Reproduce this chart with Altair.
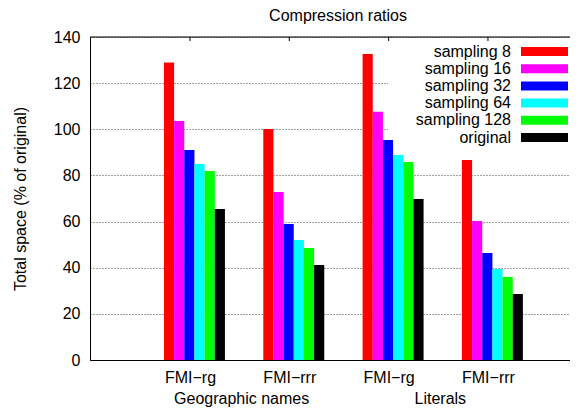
import altair as alt
import pandas as pd

# ---- data ----
tick_labels = ["FMI−rg", "FMI−rrr", "FMI−rg", "FMI−rrr"]
tick_pos = [1, 2, 3, 4]
dataset_labels = ["Geographic names", "Literals"]
dataset_pos = [1.52, 3.52]
series = ["sampling 8", "sampling 16", "sampling 32", "sampling 64", "sampling 128", "original"]
colors = ["#ff0000", "#ff00ff", "#0000ff", "#00ffff", "#00ff00", "#000000"]
s8 = [128.9, 100.1, 132.6, 86.7]
s16 = [103.6, 72.8, 107.6, 60.3]
s32 = [91.0, 59.0, 95.4, 46.4]
s64 = [85.0, 52.0, 88.9, 39.4]
s128 = [81.9, 48.5, 85.8, 36.0]
orig = [65.5, 41.2, 69.8, 28.6]
values = [s8, s16, s32, s64, s128, orig]
title_text = "Compression ratios"

FONT = "Liberation Sans"
W, H = 480, 323
start, bw = -0.262, 0.1023

rows = []
for i, name in enumerate(series):
    for k, p in enumerate(tick_pos):
        x0 = p + start + i * bw
        rows.append({"series": name, "x": x0, "x2": x0 + bw, "v": values[i][k]})
bars_df = pd.DataFrame(rows)

xscale = alt.Scale(domain=[-0.0067, 4.826], nice=False, zero=False)
yscale = alt.Scale(domain=[0, 140], nice=False)
cscale = alt.Scale(domain=series, range=colors)

label_expr = "['', '" + "', '".join(tick_labels) + "'][datum.value]"

# legend background box (covers grid only)
box = alt.Chart(pd.DataFrame({"a": [0]})).mark_rect(fill="white", strokeWidth=0).encode(
    x=alt.value(298), x2=alt.value(W), y=alt.value(1), y2=alt.value(110)
)

bars = alt.Chart(bars_df).mark_rect().encode(
    x=alt.X("x:Q", scale=xscale, title=None,
            axis=alt.Axis(values=tick_pos, labelExpr=label_expr, ticks=False, grid=False,
                          labelFont=FONT, labelFontSize=16, labelColor="black",
                          labelPadding=9, domainColor="black", domainWidth=1)),
    x2="x2:Q",
    y=alt.Y("v:Q", scale=yscale, title="Total space (% of original)",
            axis=alt.Axis(values=list(range(0, 141, 20)), ticks=False, grid=True,
                          gridColor="#444", gridDash=[1, 2], gridWidth=1,
                          labelFont=FONT, labelFontSize=16, labelColor="black",
                          labelPadding=10, domainColor="black", domainWidth=1,
                          titleFont=FONT, titleFontSize=16, titleFontWeight="normal",
                          titleColor="black", titleX=-70, titleY=161.5, titleAngle=270,
                          titleAlign="center", titleBaseline="middle")),
    color=alt.Color("series:N", scale=cscale, legend=None),
)

top_line = alt.Chart(pd.DataFrame({"a": [0]})).mark_rule(color="black", strokeWidth=1).encode(
    x=alt.value(0), x2=alt.value(W), y=alt.value(0)
)

top_ticks = alt.Chart(pd.DataFrame({"t": tick_pos})).mark_rule(color="black", strokeWidth=1).encode(
    x=alt.X("t:Q", scale=xscale), y=alt.value(0), y2=alt.value(4)
)

leg_df = pd.DataFrame({"series": series, "i": list(range(len(series)))})
leg_df["ly"] = 14.5 + 17.2 * leg_df["i"]

leg_text = alt.Chart(leg_df).mark_text(align="right", baseline="middle", font=FONT,
                                       fontSize=16, color="black").encode(
    x=alt.value(421), y=alt.Y("ly:Q", scale=None), text="series:N"
)
leg_sw = alt.Chart(leg_df).mark_rect(height=9).encode(
    x=alt.value(431), x2=alt.value(478), y=alt.Y("ly:Q", scale=None),
    color=alt.Color("series:N", scale=cscale, legend=None),
)

group_labels = alt.Chart(pd.DataFrame({"g": dataset_labels, "gx": dataset_pos})).mark_text(
    baseline="middle", align="center", font=FONT, fontSize=16, color="black").encode(
    x=alt.X("gx:Q", scale=xscale), y=alt.value(H + 39), text="g:N"
)

title = alt.Chart(pd.DataFrame({"t": [title_text]})).mark_text(
    baseline="middle", align="center", font=FONT, fontSize=16, color="black").encode(
    x=alt.value(248), y=alt.value(-21), text="t:N"
)

chart = alt.layer(box, bars, top_line, top_ticks, leg_sw, leg_text, group_labels, title).properties(
    width=W, height=H,
    autosize=alt.AutoSizeParams(type="none"),
    padding={"left": 82, "top": 29, "right": 0, "bottom": 48},
).configure_view(strokeWidth=0).configure(background="white")

chart.save("out.html", embed_options={"renderer": "svg", "actions": False})
